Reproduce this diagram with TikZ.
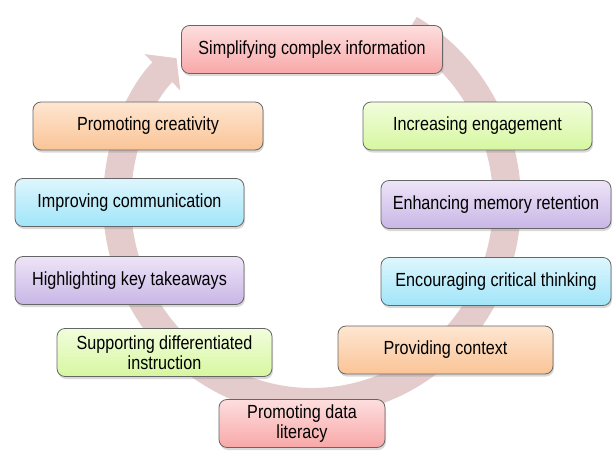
\documentclass[tikz,border=0pt]{standalone}
\usepackage{fontspec}
\setmainfont{Liberation Sans}[FakeStretch=0.85]
\usetikzlibrary{arrows.meta,shadows}
\definecolor{ringcol}{RGB}{229,204,204}
\definecolor{pinkT}{RGB}{253,222,222}\definecolor{pinkB}{RGB}{248,168,168}
\definecolor{orangeT}{RGB}{254,230,210}\definecolor{orangeB}{RGB}{250,196,150}
\definecolor{greenT}{RGB}{242,253,220}\definecolor{greenB}{RGB}{214,247,160}
\definecolor{blueT}{RGB}{222,246,253}\definecolor{blueB}{RGB}{160,229,249}
\definecolor{purpleT}{RGB}{238,228,247}\definecolor{purpleB}{RGB}{200,182,230}
\tikzset{
	box/.style={draw=black!60,line width=0.8pt,rounded corners=8pt,align=center,
		minimum height=48pt,inner sep=2pt,
		font=\fontsize{19}{19.5}\selectfont,
		drop shadow={shadow xshift=1pt,shadow yshift=-2.5pt,opacity=0.3}},
	pinkbox/.style={box,top color=pinkT,bottom color=pinkB},
	orangebox/.style={box,top color=orangeT,bottom color=orangeB},
	greenbox/.style={box,top color=greenT,bottom color=greenB},
	bluebox/.style={box,top color=blueT,bottom color=blueB},
	purplebox/.style={box,top color=purpleT,bottom color=purpleB}
}
\begin{document}
\begin{tikzpicture}[x=1pt,y=1pt,line join=round]
		\useasboundingbox (0,0) rectangle (616,451);
		%vòng mũi tên phía sau
		\coordinate (O) at (312,249);
		\draw[ringcol,line width=28pt,-{Triangle[length=20pt,width=50pt]}]
			([shift={(60:195 and 200)}]O) arc[start angle=60,end angle=-226,x radius=195,y radius=200];
		%các hộp bên trái
		\node[pinkbox,minimum width=261pt] (simp) at (312,401.5) {Simplifying complex information};
		\node[orangebox,minimum width=230pt] (creat) at (148,325) {Promoting creativity};
		\node[bluebox,minimum width=229pt] (comm) at (129.5,248.5) {Improving communication};
		\node[purplebox,minimum width=229pt] (high) at (129.5,170.5) {Highlighting key takeaways};
		\node[greenbox,minimum width=215pt] (diff) at (164.5,98.5) {Supporting differentiated\\instruction};
		\node[pinkbox,minimum width=166pt] (lit) at (302,27.5) {Promoting data\\literacy};
		%các hộp bên phải
		\node[greenbox,minimum width=229pt] (eng) at (477.5,325) {Increasing engagement};
		\node[purplebox,minimum width=230pt] (mem) at (496,246.5) {Enhancing memory retention};
		\node[bluebox,minimum width=230pt] (crit) at (496,169.5) {Encouraging critical thinking};
		\node[orangebox,minimum width=215pt] (ctx) at (445.5,101) {Providing context};
	\end{tikzpicture}
\end{document}
